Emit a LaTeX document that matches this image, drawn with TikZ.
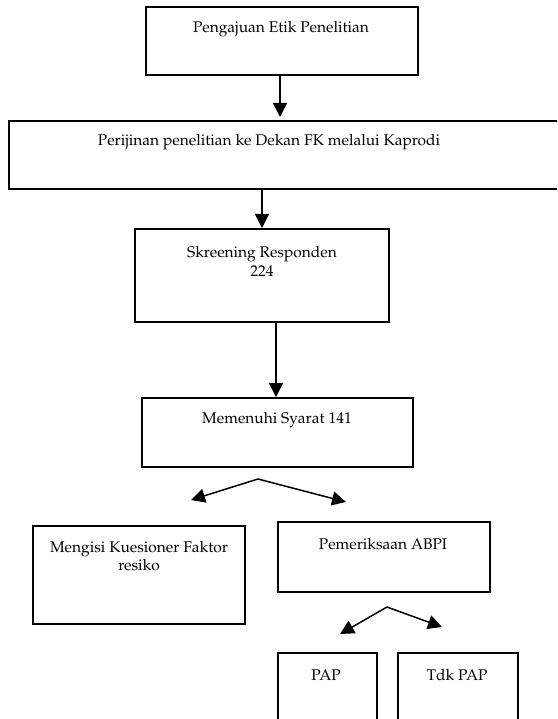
\documentclass[tikz,border=0pt]{standalone}
\usepackage[T1]{fontenc}
\usepackage{mathpazo}
\usetikzlibrary{arrows.meta}
\tikzset{
  stepbox/.style={draw=black, line width=1.3pt, inner sep=0pt},
  lbl/.style={anchor=base, inner sep=0pt, font=\fontsize{15.5}{19}\selectfont, align=center},
  flow/.style={draw=black, line width=1.5pt, -{Triangle[width=14pt,length=14pt]}}
}
\begin{document}
\begin{tikzpicture}[x=1pt,y=-1pt]
\useasboundingbox (0,0) rectangle (557,719);
\clip (0,0) rectangle (557,719);
% boxes
\node[stepbox, minimum width=272pt, minimum height=68pt] (b1) at (282,41) {};
\node[stepbox, minimum width=562pt, minimum height=68pt] (b2) at (290,155) {};
\node[stepbox, minimum width=254pt, minimum height=93pt] (b3) at (262,275.5) {};
\node[stepbox, minimum width=271pt, minimum height=69pt] (b4) at (277.5,432.5) {};
\node[stepbox, minimum width=212pt, minimum height=98pt] (b5) at (139,575) {};
\node[stepbox, minimum width=212pt, minimum height=70pt] (b6) at (384,557) {};
\node[stepbox, minimum width=99pt, minimum height=90pt] (b7) at (327.5,698) {};
\node[stepbox, minimum width=120pt, minimum height=90pt] (b8) at (458,698) {};
% labels
\node[lbl] (t1) at (281,33) {Pengajuan Etik Penelitian};
\node[lbl] (t2) at (269,146) {Perijinan penelitian ke Dekan FK melalui Kaprodi};
\node[lbl] (t3a) at (262,257) {Skreening Responden};
\node[lbl] (t3b) at (262,276) {224};
\node[lbl] (t4) at (277,423) {Memenuhi Syarat 141};
\node[lbl] (t5a) at (139,552) {Mengisi Kuesioner Faktor};
\node[lbl] (t5b) at (139,570) {resiko};
\node[lbl] (t6) at (383,549) {Pemeriksaan ABPI};
\node[lbl] (t7) at (326,680) {PAP};
\node[lbl] (t8) at (457,680) {Tdk PAP};
% connectors
\coordinate (a1s) at (280,75);
\coordinate (a1e) at (280,117);
\coordinate (a2s) at (262,189);
\coordinate (a2e) at (262,228);
\coordinate (a3s) at (276,322);
\coordinate (a3e) at (276,397);
\draw[flow] (a1s) -- (a1e);
\draw[flow] (a2s) -- (a2e);
\draw[flow] (a3s) -- (a3e);
\coordinate (s1) at (258,479);
\coordinate (s1l) at (191,500);
\coordinate (s1r) at (346,502);
\draw[flow] (s1) -- (s1l);
\draw[flow] (s1) -- (s1r);
\coordinate (s2) at (387,607);
\coordinate (s2l) at (340,634);
\coordinate (s2r) at (442,627);
\draw[flow] (s2) -- (s2l);
\draw[flow] (s2) -- (s2r);
\end{tikzpicture}
\end{document}
